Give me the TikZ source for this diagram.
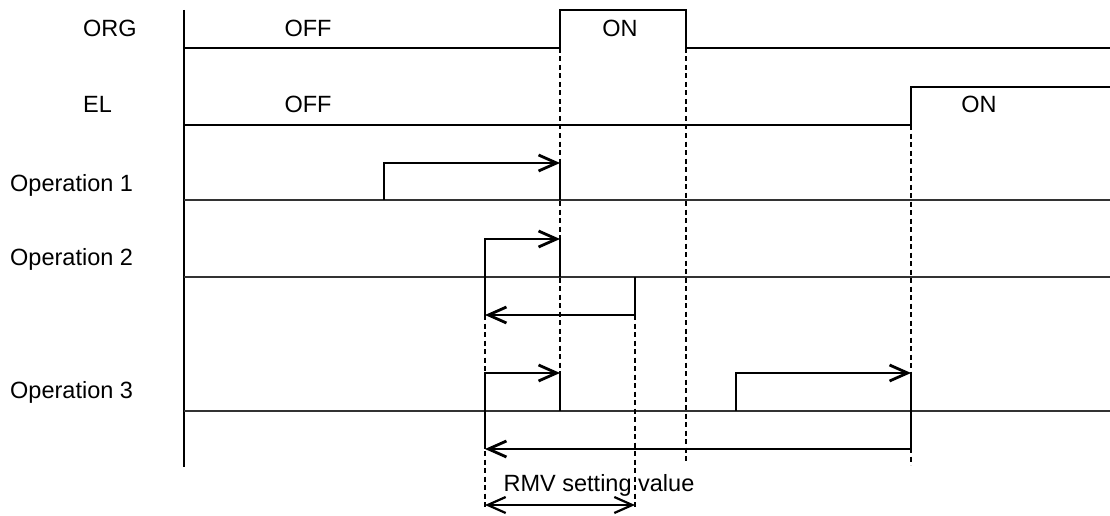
\documentclass[tikz,border=0pt]{standalone}
\usepackage{fontspec}
\setmainfont{Liberation Sans}
\usetikzlibrary{arrows.meta}
\begin{document}
\begin{tikzpicture}[x=1pt,y=-1pt,
  sig/.style={line width=2.8pt},
  base/.style={line width=1.4pt,black!80},
  axisline/.style={line width=1.5pt},
  guide/.style={line width=1.2pt,dash pattern=on 5pt off 3.5pt},
  tip/.style={-{Straight Barb[length=18pt,width=16pt,line width=2.8pt]}},
  lbl/.style={font=\fontsize{23.5pt}{28pt}\selectfont,inner sep=0pt},
]
\useasboundingbox (0,0) rectangle (1110,516);
% labels
\node[lbl,anchor=base west] (lORG) at (83,37) {ORG};
\node[lbl,anchor=base west] (lEL) at (83,113) {EL};
\node[lbl,anchor=base west] (lOp1) at (10,191) {Operation 1};
\node[lbl,anchor=base west] (lOp2) at (10,265) {Operation 2};
\node[lbl,anchor=base west] (lOp3) at (10,398) {Operation 3};
\node[lbl,anchor=base] (tOFF1) at (308,37) {OFF};
\node[lbl,anchor=base] (tON1) at (620,37) {ON};
\node[lbl,anchor=base] (tOFF2) at (308,113) {OFF};
\node[lbl,anchor=base] (tON2) at (979,113) {ON};
\node[lbl,anchor=base] (tRMV) at (599,491) {RMV setting value};
% axis
\coordinate (axT) at (184,10);
\coordinate (axB) at (184,467);
\draw[axisline] (axT) -- (axB);
% baselines
\coordinate (b1L) at (184,200); \coordinate (b1R) at (1110,200);
\coordinate (b2L) at (184,277); \coordinate (b2R) at (1110,277);
\coordinate (b3L) at (184,411); \coordinate (b3R) at (1110,411);
\draw[base] (b1L) -- (b1R);
\draw[base] (b2L) -- (b2R);
\draw[base] (b3L) -- (b3R);
% guides
\coordinate (g1T) at (560,48);  \coordinate (g1B) at (560,373);
\coordinate (g2T) at (686,48);  \coordinate (g2B) at (686,463);
\coordinate (g3T) at (911,125); \coordinate (g3B) at (911,465);
\coordinate (g4T) at (485,315); \coordinate (g4B) at (485,507);
\coordinate (g5T) at (635,315); \coordinate (g5B) at (635,507);
\draw[guide] (g1T) -- (g1B);
\draw[guide] (g2T) -- (g2B);
\draw[guide] (g3T) -- (g3B);
\draw[guide] (g4T) -- (g4B);
\draw[guide] (g5T) -- (g5B);
% ORG signal
\coordinate (o0) at (184,48);
\coordinate (o1) at (560,48);
\coordinate (o2) at (560,10);
\coordinate (o3) at (686,10);
\coordinate (o4) at (686,48);
\coordinate (o5) at (1110,48);
\draw[sig] (o0) -- (o1) -- (o2) -- (o3) -- (o4) -- (o5);
% EL signal
\coordinate (e0) at (184,125);
\coordinate (e1) at (911,125);
\coordinate (e2) at (911,87);
\coordinate (e3) at (1110,87);
\draw[sig] (e0) -- (e1) -- (e2) -- (e3);
% Operation 1
\coordinate (p1a) at (384,200);
\coordinate (p1b) at (384,163);
\coordinate (p1c) at (560,163);
\coordinate (p1d) at (560,200);
\draw[sig,tip] (p1a) -- (p1b) -- (p1c);
\draw[sig] (p1c) -- (p1d);
% Operation 2
\coordinate (p2a) at (485,315);
\coordinate (p2b) at (485,239);
\coordinate (p2c) at (560,239);
\coordinate (p2d) at (560,277);
\coordinate (p2e) at (635,277);
\coordinate (p2f) at (635,315);
\draw[sig,tip] (p2a) -- (p2b) -- (p2c);
\draw[sig] (p2c) -- (p2d);
\draw[sig,tip] (p2e) -- (p2f) -- (p2a);
% Operation 3
\coordinate (p3a) at (485,449);
\coordinate (p3b) at (485,373);
\coordinate (p3c) at (560,373);
\coordinate (p3d) at (560,411);
\coordinate (p3e) at (736,411);
\coordinate (p3f) at (736,373);
\coordinate (p3g) at (911,373);
\coordinate (p3h) at (911,449);
\draw[sig,tip] (p3a) -- (p3b) -- (p3c);
\draw[sig] (p3c) -- (p3d);
\draw[sig,tip] (p3e) -- (p3f) -- (p3g);
\draw[sig,tip] (p3g) -- (p3h) -- (p3a);
% RMV dimension
\coordinate (r0) at (485,505);
\coordinate (r1) at (635,505);
\draw[line width=2.2pt,{Straight Barb[length=18pt,width=16pt,line width=2.2pt]}-{Straight Barb[length=18pt,width=16pt,line width=2.2pt]}] (r0) -- (r1);
\end{tikzpicture}
\end{document}
